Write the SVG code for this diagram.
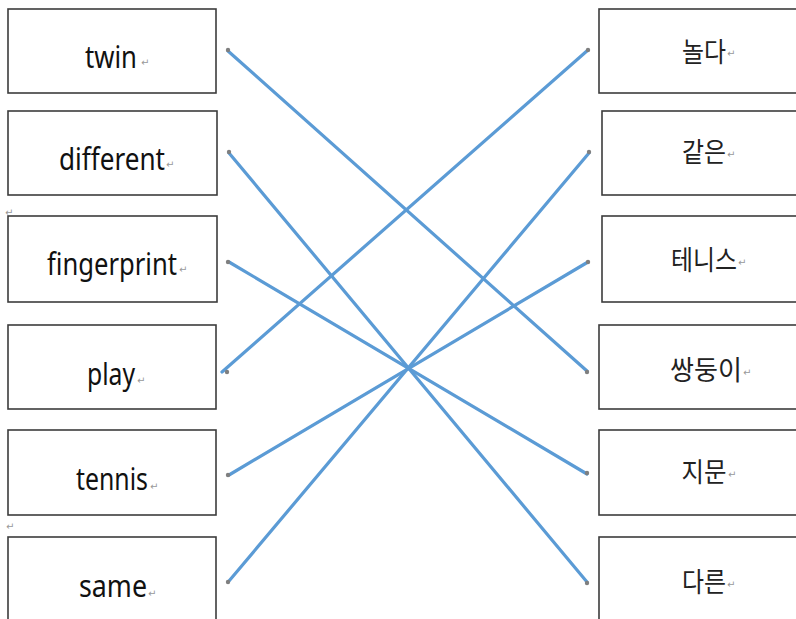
<svg xmlns="http://www.w3.org/2000/svg" width="796" height="619" viewBox="0 0 796 619">
<style>
.box{fill:#fff;stroke:#3c3c3c;stroke-width:1.6}
.en{font-family:"Noto Sans","Open Sans","Liberation Sans",sans-serif;font-size:30px;fill:#111;text-anchor:middle}
.ko{font-family:"Noto Sans CJK KR","Noto Sans",sans-serif;font-size:27px;fill:#222;text-anchor:middle}
.pm{font-family:"DejaVu Sans","Liberation Sans",sans-serif;font-size:10px;fill:#999}
.ln{stroke:#5B9BD5;stroke-width:3.2;stroke-linecap:round;fill:none}
.dot{fill:#7f7f7f}
</style>
<rect width="796" height="619" fill="#fff"/>
<g id="left-twin"><rect class="box" x="8" y="9" width="208" height="84"/><text class="en" x="111" y="68" textLength="52" lengthAdjust="spacingAndGlyphs">twin</text><text class="pm" x="141" y="66">↵</text></g>
<g id="left-different"><rect class="box" x="8" y="111" width="209" height="84"/><text class="en" x="112" y="170" textLength="106" lengthAdjust="spacingAndGlyphs">different</text><text class="pm" x="166" y="168">↵</text></g>
<g id="left-fingerprint"><rect class="box" x="8" y="216" width="209" height="86"/><text class="en" x="112" y="275" textLength="130" lengthAdjust="spacingAndGlyphs">fingerprint</text><text class="pm" x="179" y="273">↵</text></g>
<g id="left-play"><rect class="box" x="8" y="325" width="208" height="84"/><text class="en" x="111" y="385" textLength="48" lengthAdjust="spacingAndGlyphs">play</text><text class="pm" x="137" y="384">↵</text></g>
<g id="left-tennis"><rect class="box" x="8" y="430" width="208" height="85"/><text class="en" x="112" y="490" textLength="72" lengthAdjust="spacingAndGlyphs">tennis</text><text class="pm" x="150" y="490">↵</text></g>
<g id="left-same"><rect class="box" x="8" y="537" width="208" height="90"/><text class="en" x="113" y="597" textLength="68" lengthAdjust="spacingAndGlyphs">same</text><text class="pm" x="148" y="597">↵</text></g>
<text class="pm" x="5" y="216">↵</text>
<text class="pm" x="6" y="530">↵</text>
<g id="right-play"><rect class="box" x="599" y="9" width="210" height="84"/><text class="ko" x="704" y="62" textLength="44" lengthAdjust="spacingAndGlyphs">놀다</text><text class="pm" x="727" y="57">↵</text></g>
<g id="right-same"><rect class="box" x="602" y="111" width="210" height="84"/><text class="ko" x="704" y="162" textLength="44" lengthAdjust="spacingAndGlyphs">같은</text><text class="pm" x="727" y="158">↵</text></g>
<g id="right-tennis"><rect class="box" x="602" y="216" width="210" height="86"/><text class="ko" x="704" y="270" textLength="66" lengthAdjust="spacingAndGlyphs">테니스</text><text class="pm" x="738" y="266">↵</text></g>
<g id="right-twin"><rect class="box" x="599" y="325" width="210" height="84"/><text class="ko" x="706" y="380" textLength="72" lengthAdjust="spacingAndGlyphs">쌍둥이</text><text class="pm" x="743" y="376">↵</text></g>
<g id="right-fingerprint"><rect class="box" x="599" y="430" width="210" height="85"/><text class="ko" x="704" y="482" textLength="45" lengthAdjust="spacingAndGlyphs">지문</text><text class="pm" x="728" y="478">↵</text></g>
<g id="right-different"><rect class="box" x="599" y="537" width="210" height="90"/><text class="ko" x="704" y="592" textLength="44" lengthAdjust="spacingAndGlyphs">다른</text><text class="pm" x="727" y="588">↵</text></g>
<g id="connectors">
<line class="ln" x1="228" y1="51" x2="587" y2="371"/>
<line class="ln" x1="229" y1="153" x2="587" y2="582"/>
<line class="ln" x1="229" y1="262" x2="587" y2="474"/>
<line class="ln" x1="222" y1="372" x2="588" y2="50"/>
<line class="ln" x1="229" y1="475" x2="588" y2="262"/>
<line class="ln" x1="229" y1="581" x2="589" y2="153"/>
<circle class="dot" cx="228" cy="50" r="2.2"/>
<circle class="dot" cx="229" cy="152" r="2.2"/>
<circle class="dot" cx="228" cy="262" r="2.2"/>
<circle class="dot" cx="227" cy="372" r="2.2"/>
<circle class="dot" cx="228" cy="475" r="2.2"/>
<circle class="dot" cx="228" cy="582" r="2.2"/>
<circle class="dot" cx="588" cy="50" r="2.2"/>
<circle class="dot" cx="589" cy="152" r="2.2"/>
<circle class="dot" cx="588" cy="262" r="2.2"/>
<circle class="dot" cx="587" cy="372" r="2.2"/>
<circle class="dot" cx="587" cy="473" r="2.2"/>
<circle class="dot" cx="587" cy="583" r="2.2"/>
</g>
</svg>
